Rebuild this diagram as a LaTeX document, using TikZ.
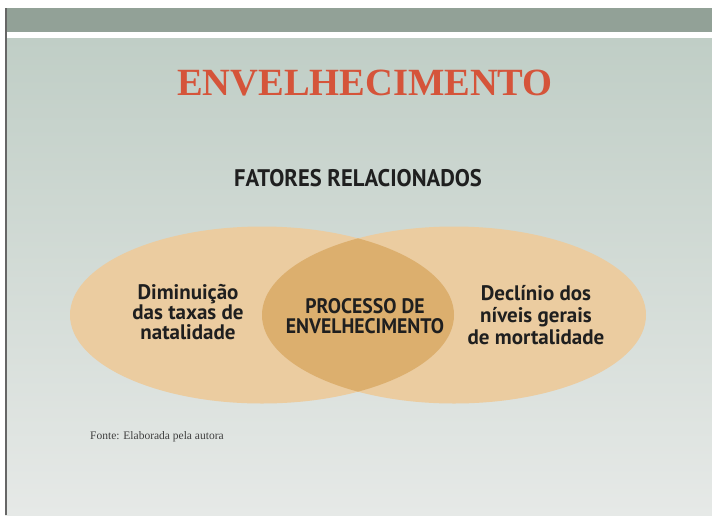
\documentclass[tikz,border=0pt]{standalone}
\usepackage{fontspec}
\setmainfont{Liberation Serif}
\newfontfamily\vennfont{PT Sans}
\newfontfamily\vennnarrow[FakeStretch=0.94]{PT Sans}
\usetikzlibrary{shapes.geometric, positioning}

\definecolor{barcolor}{HTML}{92A197}
\definecolor{slidetop}{HTML}{C0CEC6}
\definecolor{slidebottom}{HTML}{E6E9E7}
\definecolor{titlered}{HTML}{D5543A}
\definecolor{sandlight}{HTML}{EBCCA0}
\definecolor{sanddark}{HTML}{DCAF6E}

\begin{document}
\begin{tikzpicture}[
    x=1pt, y=-1pt,
    factor/.style={ellipse, minimum width=384pt, minimum height=177pt, inner sep=0pt, fill=sandlight},
    venntext/.style={align=center, text=black!88, font=\vennfont\bfseries\fontsize{21}{20}\selectfont},
]
\useasboundingbox (0,0) rectangle (712,515);

% Slide background
\shade[top color=slidetop, bottom color=slidebottom] (5,38) rectangle (712,515);
\fill[barcolor] (5,8) rectangle (712,32);
\fill[white] (5,32) rectangle (712,37);
\draw[black!60, line width=2pt] (5.5,8) -- (5.5,515);

% Title
\node[font=\bfseries\fontsize{38.5}{40}\selectfont, text=titlered] (title) at (365,83) {ENVELHECIMENTO};
\node[font=\vennnarrow\bfseries\fontsize{24}{28}\selectfont, text=black!88] (factors) at (358,178.5) {FATORES RELACIONADOS};

% Two overlapping ellipses
\node[factor] (births) at (262,315) {};
\node[factor] (deaths) at (454,315) {};

% Overlap
\begin{scope}
    \path[clip] (births.center) ellipse [x radius=192, y radius=88.5];
    \fill[sanddark] (deaths.center) ellipse [x radius=192, y radius=88.5];
\end{scope}

% Labels
\node[venntext] (natality) at (188,312) {Diminuição\\das taxas de\\natalidade};
\node[venntext, font=\vennnarrow\bfseries\fontsize{21}{20}\selectfont] (ageing) at (365,316) {PROCESSO DE\\ENVELHECIMENTO};
\node[venntext, font=\vennfont\bfseries\fontsize{21}{22}\selectfont] (mortality) at (536,315) {Declínio dos\\níveis gerais\\de mortalidade};

% Source
\node[anchor=base west, font=\fontsize{11.5}{12}\selectfont, text=black!75, inner sep=0pt] (source) at (90,439) {Fonte: Elaborada pela autora};

\end{tikzpicture}
\end{document}
